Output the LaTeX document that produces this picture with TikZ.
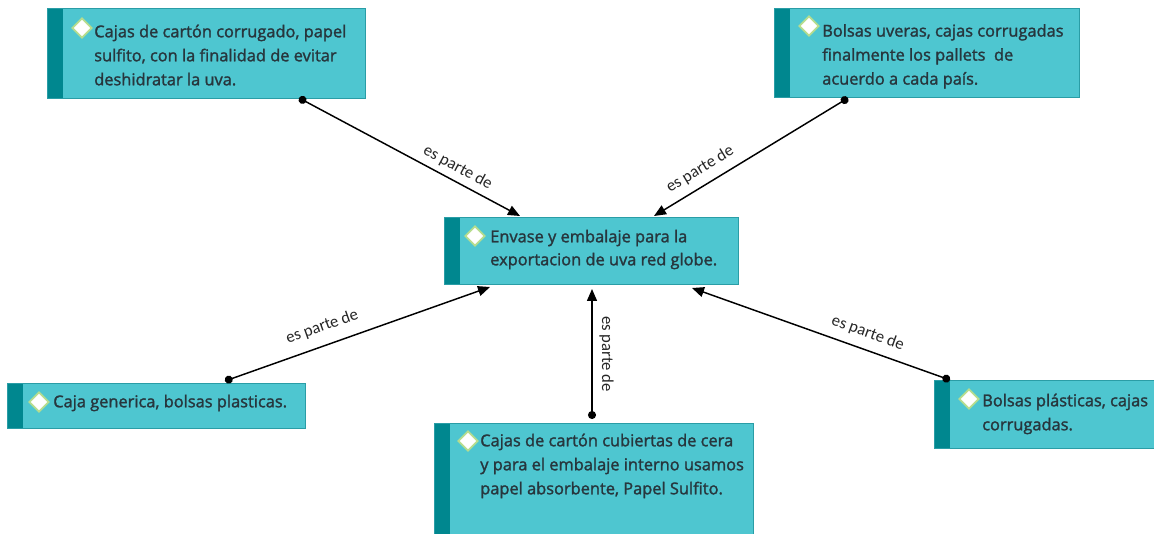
\documentclass[tikz,border=0pt]{standalone}
\usepackage{fontspec}
\setmainfont{Open Sans}
\newfontfamily\boxfont{Open Sans}[FakeBold=1.6]
\newfontfamily\lblfont{Carlito}
\usetikzlibrary{arrows.meta,shapes.geometric}
\definecolor{boxfill}{HTML}{4EC6D0}
\definecolor{boxline}{HTML}{2A9DA6}
\definecolor{stripcol}{HTML}{00878F}
\definecolor{txtcol}{HTML}{27363D}
\definecolor{dline}{HTML}{B7DD8E}
\newcommand\topstrut{\rule{0pt}{10pt}}
\begin{document}
\begin{tikzpicture}[x=0.75pt,y=-0.75pt,
  box/.style={draw=boxline, fill=boxfill, line width=1pt, rectangle, anchor=north west, inner sep=0pt,
    path picture={\fill[stripcol] (path picture bounding box.north west) rectangle ([xshift=11.25pt]path picture bounding box.south west);}},
  boxtext/.style={anchor=north west, inner sep=0pt, align=left, text=txtcol, font=\boxfont\fontsize{12.3pt}{18pt}\selectfont},
  mark diamond/.style={diamond, fill=white, draw=dline, line width=1.3pt, minimum width=15pt, minimum height=15pt, inner sep=0pt},
  conn/.style={draw=black, line width=1.1pt, {Circle[length=6pt]}-{Triangle[length=9pt,width=7.5pt]}},
  lbl/.style={font=\lblfont\fontsize{12.5pt}{14pt}\selectfont, text=black!85, inner sep=1pt}
]
\clip (0,0) rectangle (1154,534);
\fill[white] (0,0) rectangle (1154,534);

% boxes
\node[box, minimum width=238.5pt, minimum height=67.5pt] (b1) at (47,8) {};
\node[box, minimum width=228.75pt, minimum height=66.75pt] (b2) at (774,8) {};
\node[box, minimum width=220.5pt, minimum height=50.25pt] (bc) at (444,217) {};
\node[box, minimum width=223.5pt, minimum height=33.75pt] (b3) at (7,383) {};
\node[box, minimum width=239.25pt, minimum height=90pt] (b4) at (434,423) {};
\node[box, minimum width=172.5pt, minimum height=51pt] (b5) at (934,380) {};

% diamonds
\node[mark diamond] (d1) at (82,28) {};
\node[mark diamond] (d2) at (809,26) {};
\node[mark diamond] (dc) at (475,236) {};
\node[mark diamond] (d3) at (39,402) {};
\node[mark diamond] (d4) at (468,441) {};
\node[mark diamond] (d5) at (969,399) {};

% texts
\node[boxtext] (t1) at (94,23.7) {\topstrut Cajas de cartón corrugado, papel\\sulfito, con la finalidad de evitar\\deshidratar la uva.};
\node[boxtext] (t2) at (822,23) {\topstrut Bolsas uveras, cajas corrugadas\\finalmente los pallets\ \ de\\acuerdo a cada país.};
\node[boxtext, font=\boxfont\fontsize{12.3pt}{17.25pt}\selectfont] (tc) at (490,228.7) {\topstrut Envase y embalaje para la\\exportacion de uva red globe.};
\node[boxtext] (t3) at (53,393.7) {\topstrut Caja generica, bolsas plasticas.};
\node[boxtext] (t4) at (480,432.7) {\topstrut Cajas de cartón cubiertas de cera\\y para el embalaje interno usamos\\papel absorbente, Papel Sulfito.};
\node[boxtext] (t5) at (982,392.7) {\topstrut Bolsas plásticas, cajas\\corrugadas.};

% connector ends
\coordinate (s1) at (299,98);
\coordinate (e1) at (520,216);
\coordinate (s2) at (848,98);
\coordinate (e2) at (654,216);
\coordinate (s3) at (225,381);
\coordinate (e3) at (490,287);
\coordinate (s4) at (592,419);
\coordinate (e4) at (592,289);
\coordinate (s5) at (950,380);
\coordinate (e5) at (692,288);

\draw[conn] (s1) -- node[lbl, pos=.69, sloped, above=3pt] {es parte de} (e1);
\draw[conn] (s2) -- node[lbl, pos=.72, sloped, above=5pt] {es parte de} (e2);
\draw[conn] (s3) -- node[lbl, pos=.39, sloped, above=7pt] {es parte de} (e3);
\draw[conn] (s4) -- node[lbl, pos=.5, rotate=-90, anchor=south, inner ysep=5pt] {es parte de} (e4);
\draw[conn] (s5) -- node[lbl, pos=.34, sloped, above=5.5pt] {es parte de} (e5);
\end{tikzpicture}
\end{document}
